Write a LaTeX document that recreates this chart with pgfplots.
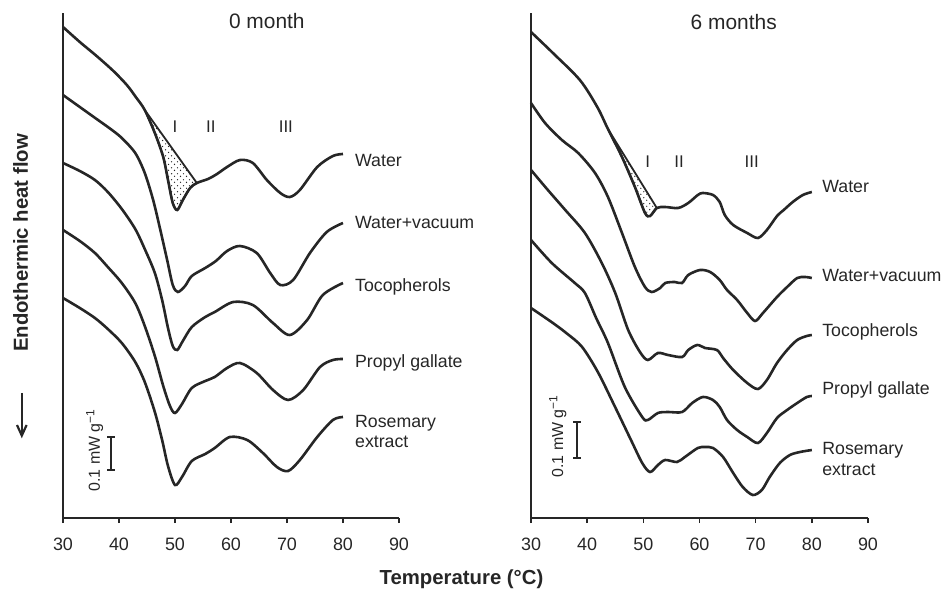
\documentclass[border=0pt]{standalone}
\usepackage{pgfplots}
\pgfplotsset{compat=1.18}
\usepackage{fontspec}
\setmainfont{Liberation Sans}
\usetikzlibrary{patterns}
\definecolor{ink}{HTML}{262626}
\pgfdeclarepatternformonly{stipple}{\pgfqpoint{-0.5pt}{-0.5pt}}{\pgfqpoint{3.5pt}{3.5pt}}{\pgfqpoint{3pt}{3pt}}{%
  \pgfpathcircle{\pgfqpoint{0.6pt}{0.6pt}}{0.35pt}%
  \pgfpathcircle{\pgfqpoint{2.1pt}{1.9pt}}{0.35pt}%
  \pgfusepath{fill}}
\pgfplotsset{
  dsc/.style={
    scale only axis, height=252.5bp,
    xmin=30, xmax=90, ymin=0, ymax=505,
    axis x line=bottom, axis y line=left,
    axis line style={-, line width=1bp, ink},
    every outer x axis line/.append style={-},
    every outer y axis line/.append style={-},
    xtick={30,40,...,90}, ytick=\empty,
    xtick pos=bottom,
    tick align=outside, major tick length=2.5bp,
    xtick style={line width=0.8bp, ink},
    xticklabel style={font=\fontsize{9}{10}\selectfont, text=ink},
    xticklabel shift=4bp,
    /pgf/number format/assume math mode=true,
    clip=false,
  },
  crv/.style={draw=ink, line width=1.3bp, smooth, no markers, fill=none},
  shd/.style={draw=ink, line width=0.9bp, smooth, no markers, pattern=stipple, pattern color=ink},
}
\tikzset{
  lab/.style={font=\fontsize{8.9}{10}\selectfont, text=ink, anchor=base west, inner sep=0pt},
  rn/.style={font=\fontsize{8.5}{10}\selectfont, text=ink, anchor=base, inner sep=0pt},
  ttl/.style={font=\fontsize{10.5}{12}\selectfont, text=ink, inner sep=0pt},
  sb/.style={font=\fontsize{8}{9}\selectfont, text=ink, anchor=base, rotate=90, inner sep=0pt},
}
\begin{document}
\begin{tikzpicture}
\path[use as bounding box] (0,0) rectangle (474bp,295bp);

% ---------------- 0 month ----------------
\begin{axis}[dsc, width=168bp, at={(31.5bp,36bp)}, anchor=south west]
\addplot[shd] coordinates {
 (44.6,408) (46.4,385) (47.9,361) (48.75,338) (49.6,315) (50.4,308) (51.4,318) (52.7,330) (53.9,335)} -- cycle;
% Water
\addplot[crv] coordinates {
 (30,491) (33,476) (36,462) (39,447) (41.4,433) (43,421) (44.6,408) (46.4,385) (47.9,361)
 (48.75,338) (49.6,315) (50.4,308) (51.4,318) (52.7,330) (53.9,335) (55.9,339) (57.5,344)
 (59.3,351) (61.6,358) (63.9,355) (66.4,338) (68.8,325) (70.5,321) (72.3,328) (75.4,351)
 (78.2,362) (80,364)};
% Water+vacuum
\addplot[crv] coordinates {
 (30,423) (33,411) (36,399) (38.5,389) (40.5,380) (42.9,365) (44.6,345) (46.1,318) (47.3,290)
 (48.6,258) (49.6,233) (50.5,226) (51.8,232) (53,242) (55.4,250) (57.3,257) (59.3,267)
 (61.6,272) (64.6,265) (67,245) (68.8,233) (71.1,238) (74.1,265) (77.1,286) (80,295)};
% Tocopherols
\addplot[crv] coordinates {
 (30,355) (33,347) (35.7,338) (38,326) (40.5,309) (42.9,289) (44.6,269) (46.4,245) (47.7,218)
 (48.75,190) (49.6,172) (50.4,168) (51.4,177) (53,191) (55.4,201) (57.1,206) (60.4,216)
 (63.9,213) (67.5,195) (70.5,183) (73.6,198) (76.4,223) (80,235)};
% Propyl gallate
\addplot[crv] coordinates {
 (30,288) (33,277) (35.7,265) (38,251) (40.5,235) (42.9,215) (44.6,192) (46.4,162) (47.9,132)
 (49.1,112) (50,105) (51.25,114) (53,130) (55.4,137) (57.1,141) (59.3,150) (61.6,155)
 (64.6,145) (67.5,128) (70.2,118) (72.9,128) (75.9,151) (78.2,158) (80,159)};
% Rosemary extract
\addplot[crv] coordinates {
 (30,220) (33,210) (35.7,200) (38,189) (40.5,175) (42.9,156) (44.6,136) (46.4,106) (47.7,78)
 (48.75,52) (50,33) (51.25,41) (53,57) (55.4,64) (57.1,70) (59.8,81) (62.9,78) (65.7,65)
 (68.2,51) (70.2,47) (72.3,58) (75.4,81) (78.2,98) (80,101)};
\node[ttl] at (axis cs:66.4,497) {0 month};
\node[rn] at (axis cs:50.0,385) {I};
\node[rn] at (axis cs:56.4,385) {II};
\node[rn] at (axis cs:69.8,385) {III};
\node[lab] at (axis cs:82.1,351) {Water};
\node[lab] at (axis cs:82.1,289) {Water+vacuum};
\node[lab] at (axis cs:82.1,226) {Tocopherols};
\node[lab] at (axis cs:82.1,150) {Propyl gallate};
\node[lab] at (axis cs:82.1,90) {Rosemary};
\node[lab] at (axis cs:82.1,70) {extract};
\draw[ink, line width=0.9bp] (axis cs:38.6,48) -- (axis cs:38.6,81);
\draw[ink, line width=0.9bp] (axis cs:37.9,48) -- (axis cs:39.3,48);
\draw[ink, line width=0.9bp] (axis cs:37.9,81) -- (axis cs:39.3,81);
\node[sb] at (axis cs:36.6,68) {0.1 mW g\textsuperscript{−1}};
\end{axis}

% ---------------- 6 months ----------------
\begin{axis}[dsc, width=168.5bp, at={(265.5bp,36bp)}, anchor=south west]
\addplot[shd] coordinates {
 (43.7,389) (46.2,361) (48.5,331) (50.3,305) (51.2,302) (52.4,310)} -- cycle;
% Water
\addplot[crv] coordinates {
 (30,486) (33.9,465) (38.7,438) (41.8,411) (43.7,389) (46.2,361) (48.5,331) (50.3,305)
 (51.2,302) (52.4,310) (53.9,311) (56.2,310) (58,315) (59.7,323) (60.6,325) (62.4,323)
 (63.6,316) (64.5,303) (66,293) (68.5,285) (70.4,280) (72,288) (73.8,302) (75,308)
 (76.6,316) (78.4,323) (80,326)};
% Water+vacuum
\addplot[crv] coordinates {
 (30,415) (32.5,395) (35.5,378) (38.4,365) (41.4,345) (43.7,321) (46.2,285) (48.5,251)
 (50.3,231) (51.5,226) (53,230) (53.9,235) (55.6,236) (56.9,235) (58,243) (60.1,248)
 (61.9,246) (63.6,238) (64.9,228) (66.7,218) (68.5,205) (69.9,197) (71.3,205) (73.8,221)
 (75.6,231) (77.4,240) (78.8,241) (80,240)};
% Tocopherols
\addplot[crv] coordinates {
 (30,348) (33,328) (36.1,308) (39.6,285) (42.6,255) (45,225) (47.3,188) (49.4,166) (50.8,158)
 (52.6,165) (54.4,163) (56.9,161) (58,168) (59.6,173) (61,170) (63.1,168) (64.2,160)
 (66,148) (68.5,135) (70.4,129) (72,138) (73.8,155) (75.6,168) (77.4,178) (79.1,182) (80,183)};
% Propyl gallate
\addplot[crv] coordinates {
 (30,278) (33.7,255) (37.8,235) (39.6,225) (41.6,200) (43.7,175) (46.7,131) (49.8,101)
 (50.8,98) (52.6,105) (54.4,106) (56.9,106) (58.7,115) (60.6,121) (62.4,118) (63.6,111)
 (64.9,98) (66.7,88) (68.5,81) (70.4,75) (72,85) (73.8,100) (75.6,108) (77.4,115)
 (79.1,121) (80,122)};
% Rosemary extract
\addplot[crv] coordinates {
 (30,210) (33.9,195) (36.5,184) (39.1,171) (41.9,146) (44.8,113) (47.8,78) (49.8,55)
 (51.2,46) (52.6,53) (53.9,58) (56,56) (57.4,61) (59.7,70) (61,71) (62.4,70) (64.2,61)
 (66,45) (67.7,31) (69.5,23) (71.1,28) (72.5,41) (74.3,55) (76.1,63) (77.9,66) (80,68)};
\node[ttl] at (axis cs:66.1,495.5) {6 months};
\node[rn] at (axis cs:50.8,350) {I};
\node[rn] at (axis cs:56.35,350) {II};
\node[rn] at (axis cs:69.3,350) {III};
\node[lab] at (axis cs:81.8,325) {Water};
\node[lab] at (axis cs:81.8,236) {Water+vacuum};
\node[lab] at (axis cs:81.8,181) {Tocopherols};
\node[lab] at (axis cs:81.8,123) {Propyl gallate};
\node[lab] at (axis cs:81.8,63) {Rosemary};
\node[lab] at (axis cs:81.8,43) {extract};
\draw[ink, line width=0.9bp] (axis cs:38.2,60) -- (axis cs:38.2,96);
\draw[ink, line width=0.9bp] (axis cs:37.5,60) -- (axis cs:38.9,60);
\draw[ink, line width=0.9bp] (axis cs:37.5,96) -- (axis cs:38.9,96);
\node[sb] at (axis cs:35.7,82) {0.1 mW g\textsuperscript{−1}};
\end{axis}

% shared labels
\node[font=\bfseries\fontsize{10.2}{12}\selectfont, text=ink, anchor=base, inner sep=0pt] at (230.75bp,3bp) {Temperature (°C)};
\node[font=\bfseries\fontsize{10.2}{12}\selectfont, text=ink, rotate=90, inner sep=0pt] at (10.3bp,173.5bp) {Endothermic heat flow};
\draw[ink, line width=1.1bp] (10.9bp,98.5bp) -- (10.9bp,77.5bp);
\draw[ink, line width=1.1bp, line join=miter] (8.5bp,82.5bp) -- (10.9bp,77.2bp) -- (13.3bp,82.5bp);
\end{tikzpicture}
\end{document}
